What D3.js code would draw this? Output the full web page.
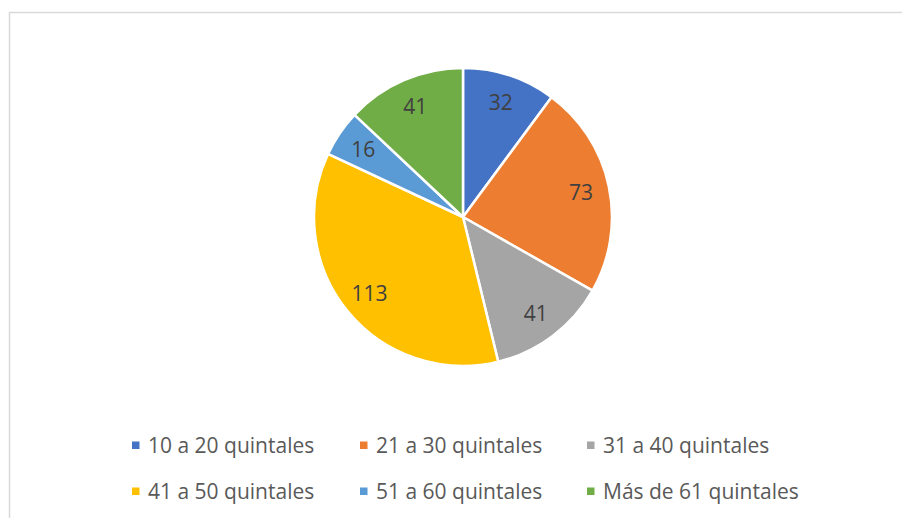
<!DOCTYPE html>
<html>
<head>
<meta charset="utf-8">
<script src="https://cdn.jsdelivr.net/npm/d3@7"></script>
<style>
  html, body { margin: 0; padding: 0; background: #fff; }
  svg { display: block; }
</style>
</head>
<body>
<svg id="chart" width="902" height="518"></svg>
<script>
const categories = ["10 a 20 quintales", "21 a 30 quintales", "31 a 40 quintales",
                    "41 a 50 quintales", "51 a 60 quintales", "Más de 61 quintales"];
const values = [32, 73, 41, 113, 16, 41];
const colors = ["#4472C4", "#ED7D31", "#A5A5A5", "#FFC000", "#5B9BD5", "#70AD47"];

const svg = d3.select("#chart");

// chart area border
svg.append("rect")
  .attr("x", 9.5).attr("y", 12.5)
  .attr("width", 900).attr("height", 520)
  .attr("fill", "#fff").attr("stroke", "#d9d9d9").attr("stroke-width", 1.5);

const cx = 463, cy = 217, R = 149;
const pie = d3.pie().sort(null).value(d => d)(values);
const arc = d3.arc().innerRadius(0).outerRadius(R);
const labelArc = d3.arc().innerRadius(R * 0.81).outerRadius(R * 0.81);

const g = svg.append("g").attr("transform", `translate(${cx},${cy})`);
g.selectAll("path.slice")
  .data(pie)
  .join("path")
  .attr("class", "slice")
  .attr("d", arc)
  .attr("fill", (d, i) => colors[i])
  .attr("stroke", "#fff")
  .attr("stroke-width", 2.5)
  .attr("stroke-linejoin", "round");

g.selectAll("text.lbl")
  .data(pie)
  .join("text")
  .attr("class", "lbl")
  .attr("transform", d => `translate(${labelArc.centroid(d)})`)
  .attr("text-anchor", "middle")
  .attr("dy", "0.36em")
  .attr("font-family", "'Open Sans', sans-serif")
  .attr("font-size", 21)
  .attr("fill", "#404040")
  .text(d => d.data);

// legend
const colX = [132, 360, 587];
const rowY = [445, 491];
const leg = svg.append("g");
categories.forEach((c, i) => {
  const x = colX[i % 3], y = rowY[Math.floor(i / 3)];
  const it = leg.append("g").attr("transform", `translate(${x},${y})`);
  it.append("rect").attr("x", 0).attr("y", -3.5).attr("width", 7.5).attr("height", 7.5)
    .attr("fill", colors[i]);
  it.append("text").attr("x", 16).attr("y", 0).attr("dy", "0.36em")
    .attr("font-family", "'Open Sans', sans-serif")
    .attr("font-size", 21)
    .attr("fill", "#595959")
    .text(c);
});
</script>
</body>
</html>
